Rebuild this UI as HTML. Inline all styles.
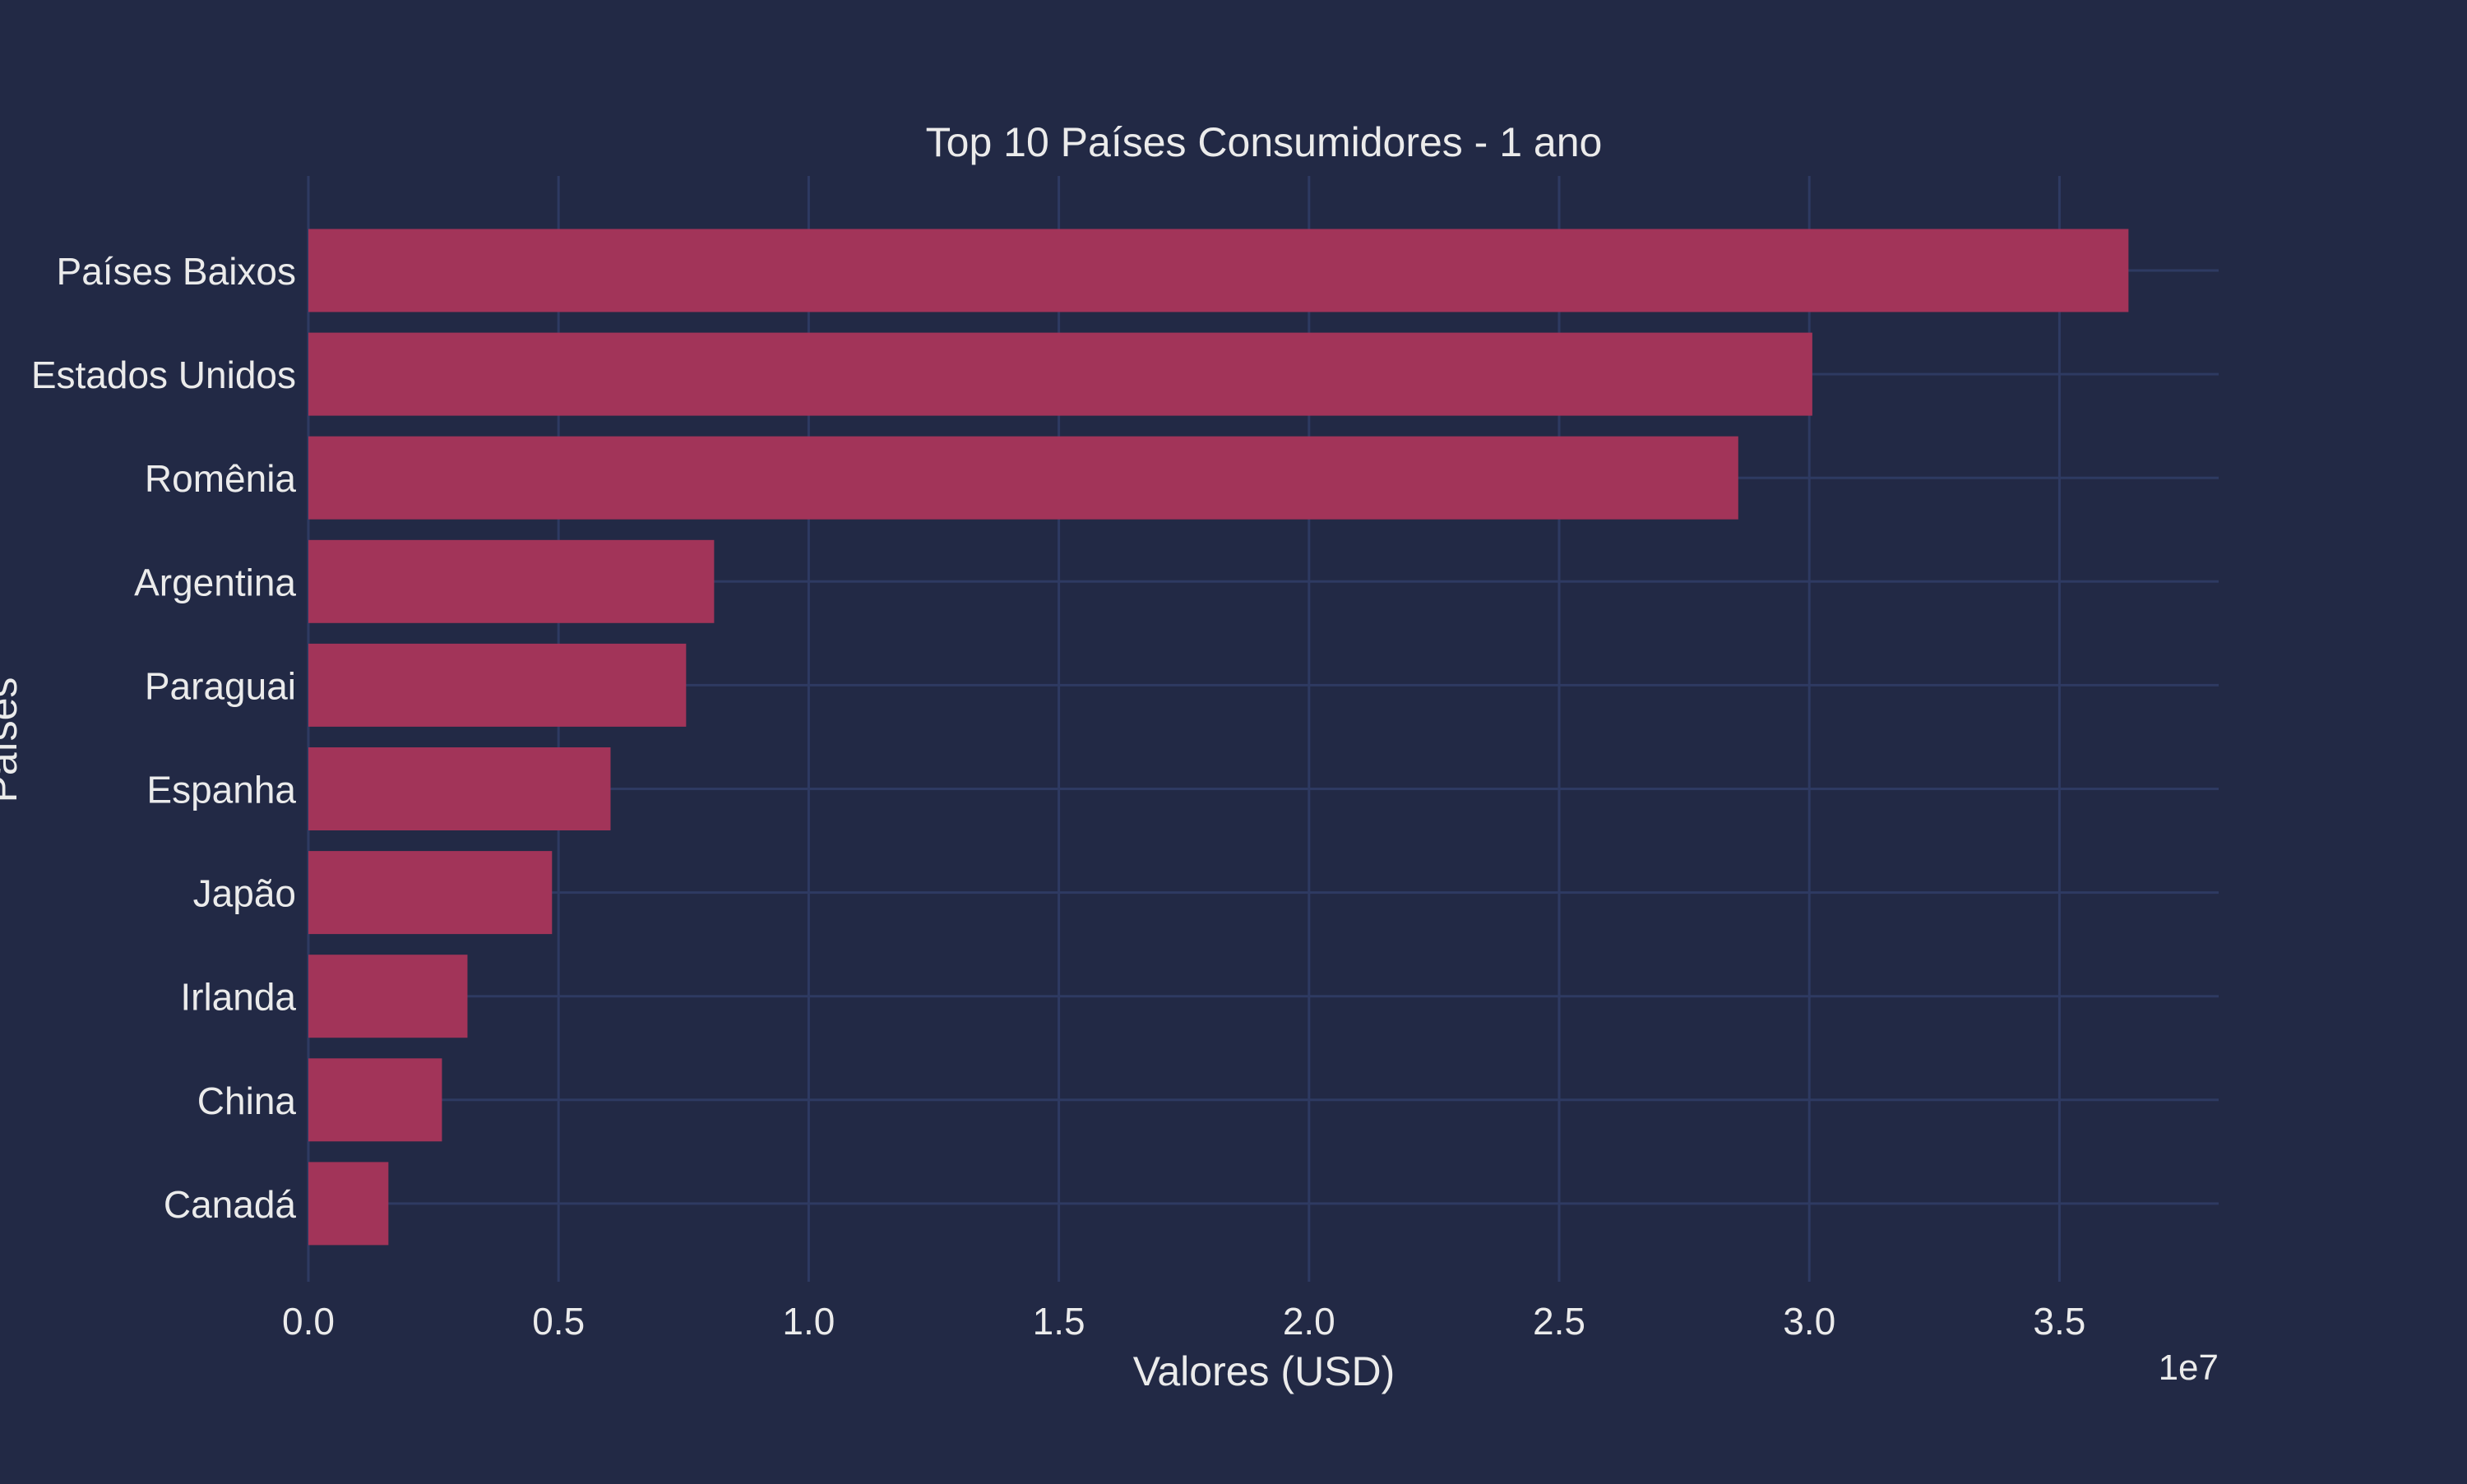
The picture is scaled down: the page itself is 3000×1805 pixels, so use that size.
<!DOCTYPE html>
<html><head><meta charset="utf-8"><style>
html,body{margin:0;padding:0;background:#222945;}
svg text{font-family:"Liberation Sans",sans-serif;fill:#ebebeb;}
</style></head><body>
<svg width="3000" height="1800" xmlns="http://www.w3.org/2000/svg">
<rect width="3000" height="1800" fill="#222945"/>
<g id="grid"></g><g id="bars"></g><g id="labels"></g>
<text x="1537" y="190" font-size="50" text-anchor="middle">Top 10 Países Consumidores - 1 ano</text>
<text x="1537" y="1685" font-size="50" text-anchor="middle">Valores (USD)</text>
<text x="2698" y="1678" font-size="44" text-anchor="end">1e7</text>
<text transform="translate(20,900) rotate(-90)" font-size="50" text-anchor="middle">Países</text>
</svg>
<script>
const categories=["Países Baixos","Estados Unidos","Romênia","Argentina","Paraguai","Espanha","Japão","Irlanda","China","Canadá"];
const values=[3.638e7,3.006e7,2.858e7,0.811e7,0.755e7,0.604e7,0.487e7,0.318e7,0.267e7,0.160e7];
const xTicks=[0,0.5e7,1e7,1.5e7,2e7,2.5e7,3e7,3.5e7];
const xTickLabels=["0.0","0.5","1.0","1.5","2.0","2.5","3.0","3.5"];
const NS="http://www.w3.org/2000/svg";
const X0=375,PX=608.4/1e7,TOP=214,BOT=1559,RIGHT=2698,Y0=329,STEP=126.1,BH=101;
const xs=v=>X0+v*PX, ys=i=>Y0+i*STEP;
function mk(t,a,p){const e=document.createElementNS(NS,t);for(const k in a)e.setAttribute(k,a[k]);p.appendChild(e);return e;}
const g=document.getElementById('grid'),b=document.getElementById('bars'),l=document.getElementById('labels');
xTicks.forEach((v,i)=>{
 const ln=mk('line',{x1:xs(v),x2:xs(v),y1:TOP,y2:BOT,stroke:'#2e3a62','stroke-width':3},g);
 
 
 const t=mk('text',{x:xs(v),y:1623,'font-size':46,'text-anchor':'middle'},l);
 t.textContent=xTickLabels[i];
 
 
});
categories.forEach((c,i)=>{
 const ln=mk('line',{x1:X0,x2:RIGHT,y1:ys(i),y2:ys(i),stroke:'#2e3a62','stroke-width':3},g);
 
 
 const r=mk('rect',{x:X0,y:ys(i)-BH/2,width:xs(values[i])-X0,height:BH,fill:'#a23459'},b);
 
 
 const t=mk('text',{x:360,y:ys(i)+17,'font-size':46,'text-anchor':'end'},l);
 t.textContent=c;
 
 
});
</script>
</body></html>
